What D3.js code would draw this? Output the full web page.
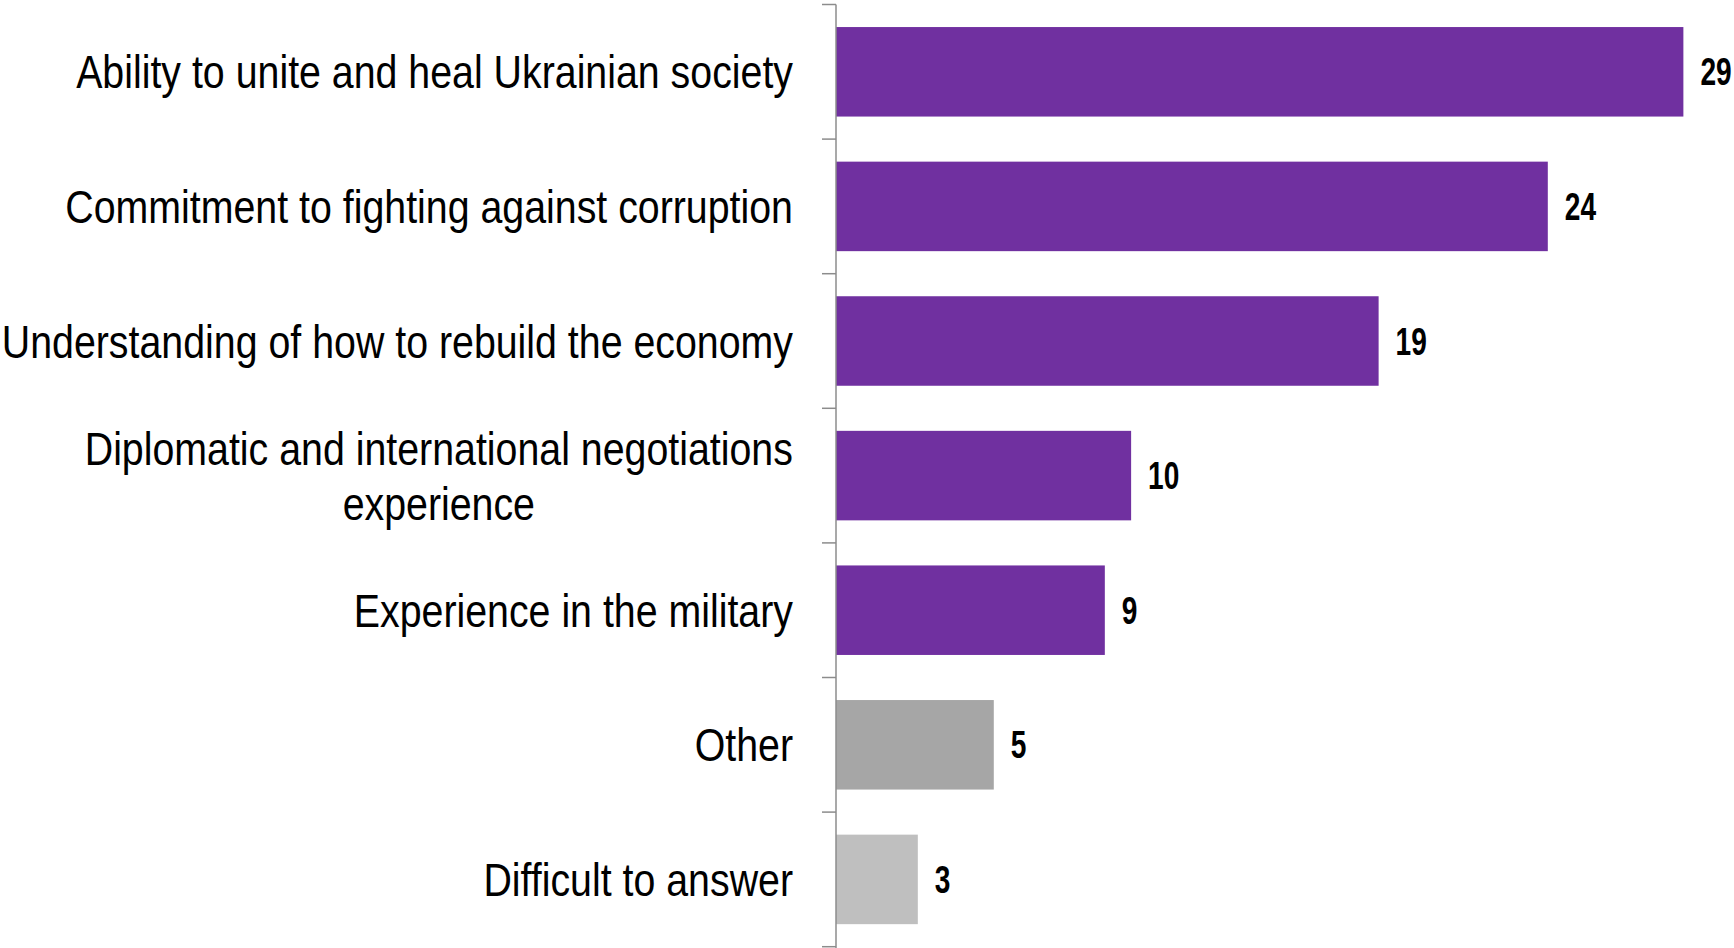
<!DOCTYPE html>
<html>
<head>
<meta charset="utf-8">
<script src="https://cdn.jsdelivr.net/npm/d3@7"></script>
<style>
html,body{margin:0;padding:0;background:#fff;}
svg{display:block;}
</style>
</head>
<body>
<svg id="chart" width="1734" height="948"></svg>
<script>
const categories = [
  ["Ability to unite and heal Ukrainian society"],
  ["Commitment to fighting against corruption"],
  ["Understanding of how to rebuild the economy"],
  ["Diplomatic and international negotiations", "experience"],
  ["Experience in the military"],
  ["Other"],
  ["Difficult to answer"]
];
const values = [29, 24.36, 18.57, 10.1, 9.2, 5.4, 2.8];
const barColors = ["#7030A0", "#7030A0", "#7030A0", "#7030A0", "#7030A0", "#A6A6A6", "#BFBFBF"];

const svg = d3.select("#chart");
const fontCat = "'Liberation Sans Narrow', 'Arial Narrow', 'Liberation Sans', Arial, sans-serif";
const catSX = 0.855;   // horizontal condensing (Arial Narrow look)
const valSX = 0.74;

const keys = categories.map((c, i) => i);
const pad = 0.335;
const y = d3.scaleBand().domain(keys).range([4.5, 946.7]).paddingInner(pad).paddingOuter(pad / 2);
const x = d3.scaleLinear().domain([0, 30]).range([836, 836 + 30 * 29.22]);

// bars
svg.selectAll("rect.bar").data(values).join("rect")
  .attr("class", "bar")
  .attr("x", x(0))
  .attr("y", (d, i) => y(i))
  .attr("width", d => x(d) - x(0))
  .attr("height", y.bandwidth())
  .attr("fill", (d, i) => barColors[i]);

// axis line + ticks at category boundaries
const step = y.step();
const bounds = d3.range(keys.length + 1).map(i => y(0) - step * pad / 2 + i * step);
const axisG = svg.append("g");
axisG.append("line")
  .attr("x1", x(0)).attr("x2", x(0))
  .attr("y1", bounds[0]).attr("y2", 948)
  .attr("stroke", "#8C8C8C").attr("stroke-width", 1.5);
axisG.selectAll("line.tick").data(bounds).join("line")
  .attr("class", "tick")
  .attr("x1", x(0) - 14).attr("x2", x(0))
  .attr("y1", d => d).attr("y2", d => d)
  .attr("stroke", "#8C8C8C").attr("stroke-width", 1.5);

// value labels
svg.selectAll("text.val").data(values).join("text")
  .attr("class", "val")
  .attr("transform", (d, i) => `translate(${x(d) + 17},${y(i) + y.bandwidth() / 2}) scale(${valSX},1)`)
  .attr("dy", "0.36em")
  .attr("font-family", fontCat)
  .attr("font-weight", "bold")
  .attr("font-size", 38)
  .attr("fill", "#000")
  .text(d => d3.format(".0f")(d));

// category labels
const labelRight = 793;
const catSize = 46;
const lineH = 55;
categories.forEach((lines, i) => {
  const cy = y(i) + y.bandwidth() / 2;
  const g = svg.append("g");
  const t = g.append("text")
    .attr("font-family", fontCat)
    .attr("font-size", catSize)
    .attr("fill", "#000");
  const n = lines.length;
  lines.forEach((ln, j) => {
    t.append("tspan")
      .attr("x", 0)
      .attr("y", (j - (n - 1) / 2) * lineH)
      .attr("dy", "0.36em")
      .text(ln);
  });
  if (n === 1) {
    t.attr("text-anchor", "end");
    g.attr("transform", `translate(${labelRight},${cy}) scale(${catSX},1)`);
  } else {
    let maxW = 0;
    t.selectAll("tspan").each(function () { maxW = Math.max(maxW, this.getComputedTextLength()); });
    t.attr("text-anchor", "middle");
    g.attr("transform", `translate(${labelRight - maxW * catSX / 2},${cy}) scale(${catSX},1)`);
  }
});
</script>
</body>
</html>
